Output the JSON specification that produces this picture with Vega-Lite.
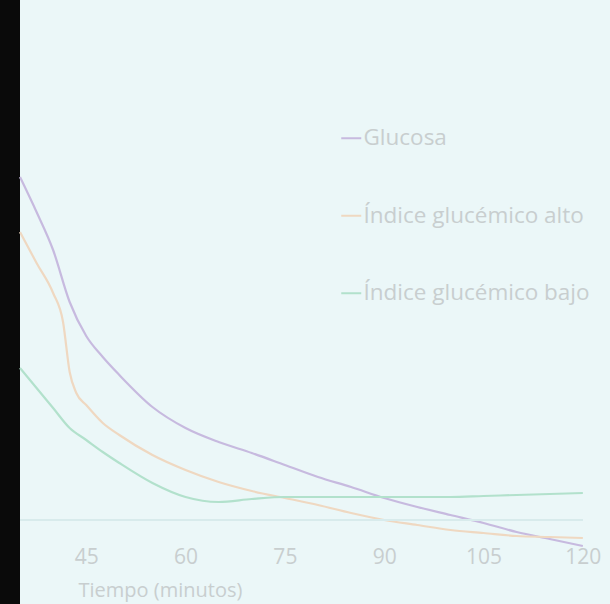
{
  "$schema": "https://vega.github.io/schema/vega-lite/v6.json",
  "width": 590,
  "height": 604,
  "autosize": {"type": "none"},
  "padding": {"left": 20, "top": 0, "right": 0, "bottom": 0},
  "background": "#0a0a0a",
  "config": {
    "view": {"fill": "#ebf7f8", "stroke": null},
    "font": "Open Sans"
  },
  "data": {
    "values": [
      {"serie": "Glucosa", "t": 35, "v": 106.75},
      {"serie": "Glucosa", "t": 37.5, "v": 98},
      {"serie": "Glucosa", "t": 40, "v": 88.5},
      {"serie": "Glucosa", "t": 42.5, "v": 75.5},
      {"serie": "Glucosa", "t": 45, "v": 67},
      {"serie": "Glucosa", "t": 47.5, "v": 61.75},
      {"serie": "Glucosa", "t": 50, "v": 57.25},
      {"serie": "Glucosa", "t": 55, "v": 49.25},
      {"serie": "Glucosa", "t": 60, "v": 44},
      {"serie": "Glucosa", "t": 65, "v": 40.5},
      {"serie": "Glucosa", "t": 70, "v": 37.75},
      {"serie": "Glucosa", "t": 75, "v": 34.75},
      {"serie": "Glucosa", "t": 80, "v": 31.75},
      {"serie": "Glucosa", "t": 85, "v": 29.25},
      {"serie": "Glucosa", "t": 90, "v": 26.5},
      {"serie": "Glucosa", "t": 95, "v": 24.25},
      {"serie": "Glucosa", "t": 100, "v": 22.25},
      {"serie": "Glucosa", "t": 105, "v": 20.25},
      {"serie": "Glucosa", "t": 110, "v": 18},
      {"serie": "Glucosa", "t": 115, "v": 16.25},
      {"serie": "Glucosa", "t": 120, "v": 14.5},
      {"serie": "Índice glucémico alto", "t": 35, "v": 93},
      {"serie": "Índice glucémico alto", "t": 37.5, "v": 85.25},
      {"serie": "Índice glucémico alto", "t": 40, "v": 77.75},
      {"serie": "Índice glucémico alto", "t": 41.5, "v": 70.5},
      {"serie": "Índice glucémico alto", "t": 42.5, "v": 58},
      {"serie": "Índice glucémico alto", "t": 43.5, "v": 52.75},
      {"serie": "Índice glucémico alto", "t": 45, "v": 49.75},
      {"serie": "Índice glucémico alto", "t": 47.5, "v": 45.25},
      {"serie": "Índice glucémico alto", "t": 50, "v": 42.25},
      {"serie": "Índice glucémico alto", "t": 55, "v": 37.25},
      {"serie": "Índice glucémico alto", "t": 60, "v": 33.5},
      {"serie": "Índice glucémico alto", "t": 65, "v": 30.5},
      {"serie": "Índice glucémico alto", "t": 70, "v": 28.25},
      {"serie": "Índice glucémico alto", "t": 75, "v": 26.5},
      {"serie": "Índice glucémico alto", "t": 80, "v": 24.75},
      {"serie": "Índice glucémico alto", "t": 85, "v": 22.75},
      {"serie": "Índice glucémico alto", "t": 90, "v": 21},
      {"serie": "Índice glucémico alto", "t": 95, "v": 19.75},
      {"serie": "Índice glucémico alto", "t": 100, "v": 18.5},
      {"serie": "Índice glucémico alto", "t": 105, "v": 17.75},
      {"serie": "Índice glucémico alto", "t": 110, "v": 17},
      {"serie": "Índice glucémico alto", "t": 115, "v": 16.75},
      {"serie": "Índice glucémico alto", "t": 120, "v": 16.5},
      {"serie": "Índice glucémico bajo", "t": 35, "v": 59},
      {"serie": "Índice glucémico bajo", "t": 37.5, "v": 54},
      {"serie": "Índice glucémico bajo", "t": 40, "v": 49},
      {"serie": "Índice glucémico bajo", "t": 42.5, "v": 44},
      {"serie": "Índice glucémico bajo", "t": 45, "v": 41},
      {"serie": "Índice glucémico bajo", "t": 47.5, "v": 38},
      {"serie": "Índice glucémico bajo", "t": 50, "v": 35.25},
      {"serie": "Índice glucémico bajo", "t": 55, "v": 30.25},
      {"serie": "Índice glucémico bajo", "t": 60, "v": 26.75},
      {"serie": "Índice glucémico bajo", "t": 65, "v": 25.5},
      {"serie": "Índice glucémico bajo", "t": 70, "v": 26.25},
      {"serie": "Índice glucémico bajo", "t": 75, "v": 26.75},
      {"serie": "Índice glucémico bajo", "t": 80, "v": 26.75},
      {"serie": "Índice glucémico bajo", "t": 90, "v": 26.75},
      {"serie": "Índice glucémico bajo", "t": 100, "v": 26.75},
      {"serie": "Índice glucémico bajo", "t": 105, "v": 27},
      {"serie": "Índice glucémico bajo", "t": 110, "v": 27.25},
      {"serie": "Índice glucémico bajo", "t": 115, "v": 27.5},
      {"serie": "Índice glucémico bajo", "t": 120, "v": 27.75}
    ]
  },
  "encoding": {
    "x": {
      "field": "t",
      "type": "quantitative",
      "scale": {"domain": [35, 124.1], "nice": false, "zero": false},
      "axis": {
        "values": [45, 60, 75, 90, 105, 120],
        "offset": -58,
        "domain": false,
        "ticks": false,
        "grid": false,
        "labelPadding": 0,
        "labelBaseline": "top",
        "labelFontSize": 21,
        "labelColor": "#c8cecf",
        "title": "Tiempo (minutos)",
        "titleFontSize": 20,
        "titleFontWeight": "normal",
        "titleColor": "#c8cecf",
        "titleAnchor": "start",
        "titleAlign": "left",
        "titleBaseline": "middle",
        "titleX": 58,
        "titleY": 44
      }
    },
    "y": {
      "field": "v",
      "type": "quantitative",
      "scale": {"domain": [0, 151], "nice": false, "zero": false},
      "axis": null
    }
  },
  "layer": [
    {
      "mark": {"type": "line", "interpolate": "monotone", "strokeWidth": 2.2},
      "encoding": {
        "color": {
          "field": "serie",
          "type": "nominal",
          "scale": {
            "domain": ["Glucosa", "Índice glucémico alto", "Índice glucémico bajo"],
            "range": ["#c7badf", "#efd8c1", "#b2e1cc"]
          },
          "legend": {
            "title": null,
            "orient": "none",
            "legendX": 320,
            "legendY": 127,
            "direction": "vertical",
            "symbolType": "stroke",
            "symbolSize": 400,
            "symbolStrokeWidth": 2,
            "labelOffset": 1,
            "labelFontSize": 22.5,
            "labelColor": "#c8cecf",
            "labelLimit": 400,
            "rowPadding": 54.5
          }
        }
      }
    },
    {
      "mark": {"type": "rule", "color": "#d8ebec", "strokeWidth": 2},
      "encoding": {
        "x": {"datum": 35},
        "x2": {"datum": 120},
        "y": {"datum": 21}
      }
    }
  ]
}
